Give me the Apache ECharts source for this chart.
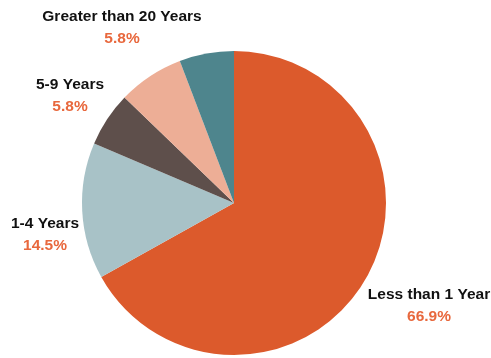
<!DOCTYPE html>
<html>
<head>
<meta charset="utf-8">
<script src="https://cdn.jsdelivr.net/npm/echarts@6/dist/echarts.min.js"></script>
<style>
  html, body { margin: 0; padding: 0; background: #fff; }
  #chart { width: 491px; height: 358px; }
</style>
</head>
<body>
<div id="chart"></div>
<script>
// Tenure categories, clockwise from 12 o'clock
const categories = ['Less than 1 Year', '1-4 Years', '5-9 Years', '10-19 Years', 'Greater than 20 Years'];
const shares = [66.9, 14.5, 5.8, 7.0, 5.8];
const showLabel = [true, true, true, false, true];

const sliceColors = ['#DC5A2C', '#A8C2C7', '#5E4F4B', '#EDAE96', '#4E858D'];
// label block centres (px), indexed like categories
const labelSpots = [[429, 306], [45, 235], [70, 96], [0, 0], [122, 28]];

const chart = echarts.init(document.getElementById('chart'), null, { renderer: 'canvas' });

chart.setOption({
  animation: false,
  series: [{
    type: 'pie',
    center: [234, 203],
    radius: [0, 152],
    startAngle: 90,
    clockwise: true,
    avoidLabelOverlap: false,
    data: categories.map((name, i) => ({
      name,
      value: shares[i],
      itemStyle: { color: sliceColors[i] },
      label: { show: showLabel[i] }
    })),
    itemStyle: { borderWidth: 0 },
    label: {
      position: 'outside',
      formatter: p => '{n|' + p.name + '}\n{p|' + p.value.toFixed(1) + '%}',
      rich: {
        n: { fontFamily: 'Liberation Sans', fontWeight: 'bold', fontSize: 15.5, color: '#111', lineHeight: 22, align: 'center' },
        p: { fontFamily: 'Liberation Sans', fontWeight: 'bold', fontSize: 15.5, color: '#E8683D', lineHeight: 22, align: 'center' }
      }
    },
    labelLine: { show: false },
    labelLayout: params => {
      const s = labelSpots[params.dataIndex];
      return { x: s[0], y: s[1], align: 'center', verticalAlign: 'middle' };
    }
  }]
});
</script>
</body>
</html>
